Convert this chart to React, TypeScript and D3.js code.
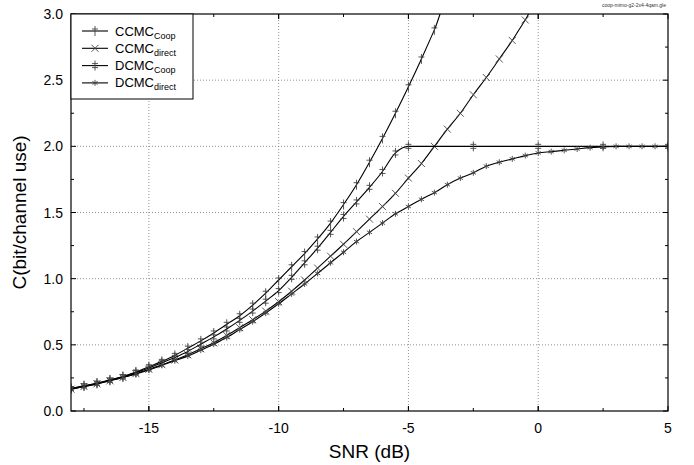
import React, { useEffect, useRef } from 'react';
import * as d3 from 'd3';

// SNR grid (dB) shared by the curves
const snrDb = [-18, -17.5, -17, -16.5, -16, -15.5, -15, -14.5, -14, -13.5, -13, -12.5, -12, -11.5, -11, -10.5, -10,
  -9.5, -9, -8.5, -8, -7.5, -7, -6.5, -6, -5.5, -5, -4.5, -4, -3.5, -3, -2.5, -2, -1.5, -1, -0.5, 0,
  0.5, 1, 1.5, 2, 2.5, 3, 3.5, 4, 4.5, 5];

const ccmcCoop = [0.17, 0.19, 0.21, 0.235, 0.26, 0.295, 0.335, 0.375, 0.42, 0.475, 0.53, 0.59, 0.655, 0.72, 0.8, 0.89, 0.99,
  1.09, 1.19, 1.3, 1.42, 1.56, 1.71, 1.88, 2.06, 2.25, 2.45, 2.66, 2.88, 3.1];

const ccmcDirect = [0.165, 0.185, 0.205, 0.228, 0.253, 0.282, 0.315, 0.35, 0.385, 0.425, 0.47, 0.515, 0.57, 0.63, 0.69, 0.755, 0.826,
  0.905, 0.99, 1.08, 1.17, 1.26, 1.355, 1.45, 1.545, 1.645, 1.76, 1.87, 2.0, 2.13, 2.25, 2.39, 2.52, 2.66, 2.8, 2.955, 3.1];

const dcmcCoopSnr = [-18, -17.5, -17, -16.5, -16, -15.5, -15, -14.5, -14, -13.5, -13, -12.5, -12, -11.5, -11, -10.5, -10,
  -9.5, -9, -8.5, -8, -7.5, -7, -6.5, -6, -5.5, -5, -2.5, 0, 2.5, 5];
const dcmcCoop = [0.17, 0.19, 0.21, 0.232, 0.258, 0.29, 0.325, 0.365, 0.405, 0.45, 0.505, 0.56, 0.62, 0.685, 0.755, 0.83, 0.91,
  1.01, 1.12, 1.23, 1.35, 1.47, 1.58, 1.69, 1.81, 1.95, 2.0, 2.0, 2.0, 2.0, 2.0];

const dcmcDirect = [0.165, 0.185, 0.205, 0.23, 0.255, 0.28, 0.31, 0.345, 0.38, 0.415, 0.46, 0.505, 0.555, 0.615, 0.675, 0.74, 0.81,
  0.885, 0.96, 1.04, 1.12, 1.2, 1.28, 1.35, 1.42, 1.49, 1.545, 1.6, 1.65, 1.71, 1.76, 1.8, 1.85, 1.88, 1.905, 1.93, 1.95,
  1.96, 1.97, 1.98, 1.99, 1.995, 2.0, 2.0, 2.0, 2.0, 2.0];

const xTicks = [-15, -10, -5, 0, 5];
const yTicks = [0, 0.5, 1, 1.5, 2, 2.5, 3];

type Marker = 'dagger' | 'cross' | 'ddagger' | 'star';

const series: { name: string; sub: string; x: number[]; y: number[]; marker: Marker }[] = [
  { name: 'CCMC', sub: 'Coop', x: snrDb, y: ccmcCoop, marker: 'dagger' },
  { name: 'CCMC', sub: 'direct', x: snrDb, y: ccmcDirect, marker: 'cross' },
  { name: 'DCMC', sub: 'Coop', x: dcmcCoopSnr, y: dcmcCoop, marker: 'ddagger' },
  { name: 'DCMC', sub: 'direct', x: snrDb, y: dcmcDirect, marker: 'star' },
];

const markerPath = (m: Marker) => {
  if (m === 'dagger') return 'M0,-5V5M-3,-2H3';
  if (m === 'ddagger') return 'M0,-5V5M-3,-2H3M-3,2H3';
  if (m === 'cross') return 'M-3.5,-3.5L3.5,3.5M-3.5,3.5L3.5,-3.5';
  return 'M0,-3V3M-2.6,-1.5L2.6,1.5M-2.6,1.5L2.6,-1.5';
};

const App = () => {
  const svgRef = useRef<SVGSVGElement>(null);

  useEffect(() => {
    const W = 694, H = 465;
    const margin = { top: 14, right: 26, bottom: 54, left: 71 };
    const width = W - margin.left - margin.right;
    const height = H - margin.top - margin.bottom;
    const font = 'Liberation Sans, Arial, sans-serif';

    const root = d3.select(svgRef.current);
    root.selectAll('*').remove();
    root.attr('width', W).attr('height', H);

    const svg = root.append('g').attr('transform', `translate(${margin.left},${margin.top})`);

    const x = d3.scaleLinear().domain([-18, 5]).range([0, width]);
    const y = d3.scaleLinear().domain([0, 3]).range([height, 0]);

    svg.append('defs').append('clipPath').attr('id', 'plot-clip')
      .append('rect').attr('width', width).attr('height', height);

    // dotted grid
    svg.append('g')
      .selectAll('line.vg')
      .data(xTicks.slice(0, -1))
      .enter().append('line')
      .attr('x1', d => x(d)).attr('x2', d => x(d))
      .attr('y1', 0).attr('y2', height)
      .attr('stroke', '#777').attr('stroke-width', 0.8).attr('stroke-dasharray', '1,2');
    svg.append('g')
      .selectAll('line.hg')
      .data(yTicks.slice(1, -1))
      .enter().append('line')
      .attr('x1', 0).attr('x2', width)
      .attr('y1', d => y(d)).attr('y2', d => y(d))
      .attr('stroke', '#777').attr('stroke-width', 0.8).attr('stroke-dasharray', '1,2');

    // inward ticks on all sides
    const xMinor = d3.range(-17.5, 5, 2.5);
    const yMinor = d3.range(0.25, 3, 0.5);
    const tickG = svg.append('g').attr('stroke', '#000').attr('stroke-width', 1);
    xTicks.concat(xMinor).forEach(v => {
      const len = xTicks.includes(v) ? 5 : 3;
      tickG.append('line').attr('x1', x(v)).attr('x2', x(v)).attr('y1', height).attr('y2', height - len);
      tickG.append('line').attr('x1', x(v)).attr('x2', x(v)).attr('y1', 0).attr('y2', len);
    });
    yTicks.concat(yMinor).forEach(v => {
      const len = yTicks.includes(v) ? 5 : 3;
      tickG.append('line').attr('x1', 0).attr('x2', len).attr('y1', y(v)).attr('y2', y(v));
      tickG.append('line').attr('x1', width).attr('x2', width - len).attr('y1', y(v)).attr('y2', y(v));
    });

    // tick labels (plain hyphen for negatives, as in the original)
    svg.append('g').selectAll('text')
      .data(xTicks).enter().append('text')
      .attr('x', d => x(d)).attr('y', height + 22)
      .attr('text-anchor', 'middle')
      .attr('font-family', font).attr('font-size', 14)
      .text(d => String(d));
    svg.append('g').selectAll('text')
      .data(yTicks).enter().append('text')
      .attr('x', -8).attr('y', d => y(d) + 5)
      .attr('text-anchor', 'end')
      .attr('font-family', font).attr('font-size', 14)
      .text(d => d.toFixed(1));

    // axis titles
    svg.append('text')
      .attr('x', width / 2).attr('y', height + 47)
      .attr('text-anchor', 'middle')
      .attr('font-family', font).attr('font-size', 19)
      .text('SNR (dB)');
    svg.append('text')
      .attr('transform', `translate(${-45},${height / 2}) rotate(-90)`)
      .attr('text-anchor', 'middle')
      .attr('font-family', font).attr('font-size', 19)
      .text('C(bit/channel use)');

    // curves
    const line = d3.line<[number, number]>()
      .x(d => x(d[0]))
      .y(d => y(d[1]))
      .curve(d3.curveMonotoneX);

    const plot = svg.append('g').attr('clip-path', 'url(#plot-clip)');
    series.forEach(s => {
      const pts: [number, number][] = s.x.map((v, i) => [v, s.y[i]]);
      plot.append('path')
        .datum(pts)
        .attr('fill', 'none')
        .attr('stroke', '#000')
        .attr('stroke-width', 1.1)
        .attr('d', line);
      plot.selectAll(null)
        .data(pts).enter().append('path')
        .attr('transform', d => `translate(${x(d[0])},${y(d[1])})`)
        .attr('d', markerPath(s.marker))
        .attr('fill', 'none')
        .attr('stroke', '#444')
        .attr('stroke-width', 0.9);
    });

    // frame
    svg.append('rect')
      .attr('width', width).attr('height', height)
      .attr('fill', 'none').attr('stroke', '#000').attr('stroke-width', 1.2);

    // legend
    const legend = svg.append('g');
    legend.append('rect')
      .attr('x', 0).attr('y', 0).attr('width', 122).attr('height', 85)
      .attr('fill', '#fff').attr('stroke', '#000').attr('stroke-width', 1);
    series.forEach((s, i) => {
      const row = legend.append('g').attr('transform', `translate(0,${17 + i * 17.3})`);
      row.append('line').attr('x1', 11).attr('x2', 37).attr('y1', 0).attr('y2', 0)
        .attr('stroke', '#000').attr('stroke-width', 1.1);
      row.append('path').attr('transform', 'translate(24,0)').attr('d', markerPath(s.marker))
        .attr('fill', 'none').attr('stroke', '#444').attr('stroke-width', 0.9);
      const t = row.append('text').attr('x', 44).attr('y', 4.5)
        .attr('font-family', font).attr('font-size', 13);
      t.append('tspan').text(s.name);
      t.append('tspan').attr('font-size', 9).attr('dy', 3).text(s.sub);
    });

    // source file tag
    root.append('text')
      .attr('x', 634).attr('y', 7)
      .attr('text-anchor', 'middle')
      .attr('font-family', font).attr('font-size', 5)
      .attr('fill', '#333')
      .text('coop-mimo-g2-2x4-4qam.gle');
  }, []);

  return (
    <div style={{ position: 'absolute', left: 0, top: 0 }}>
      <svg ref={svgRef}></svg>
    </div>
  );
};

export default App;
